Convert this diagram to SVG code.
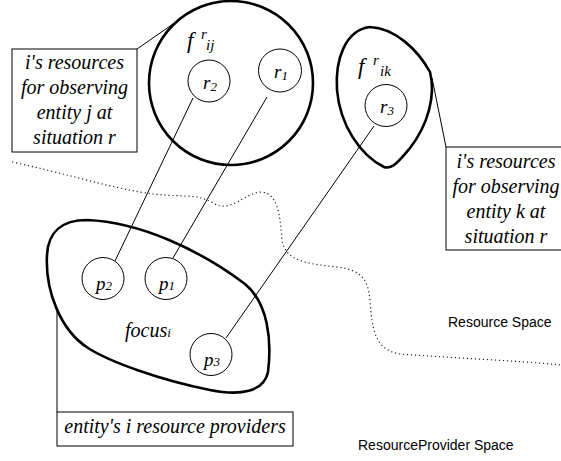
<svg xmlns="http://www.w3.org/2000/svg" width="561" height="461" viewBox="0 0 561 461">
<style>
.blob{fill:none;stroke:#000;stroke-width:2.6}
.c{fill:#fff;stroke:#000;stroke-width:1}
.ln{fill:none;stroke:#000;stroke-width:1}
.box{fill:#fff;stroke:#000;stroke-width:1}
.t{font-family:'Liberation Serif','DejaVu Serif','Times New Roman',serif;font-style:italic;font-size:20px;fill:#000}
.lbl{font-family:'Liberation Serif','DejaVu Serif','Times New Roman',serif;font-style:italic;font-size:19px;fill:#000}
.f{font-family:'Liberation Serif','DejaVu Serif','Times New Roman',serif;font-style:italic;font-size:23px;fill:#000}
.sub{font-size:13px}
.fs{font-size:15px}
.s{font-family:'Liberation Sans',Arial,sans-serif;font-size:14px;fill:#000}
.dot{fill:none;stroke:#222;stroke-width:1.2;stroke-dasharray:1.2 2.8}
</style>
<path class="dot" d="M 12 162 C 60 172, 100 185, 140 192 S 195 192, 213 203 S 245 192, 262 192 C 278 194, 280 215, 282 240 C 285 262, 310 264, 337 267 C 362 270, 368 280, 370 300 C 372 330, 375 350, 400 354 C 450 358, 510 360, 561 365"/>
<g id="connectors">
<line class="ln" x1="193" y1="98" x2="115" y2="261"/>
<line class="ln" x1="267" y1="97" x2="173" y2="258"/>
<line class="ln" x1="374" y1="126" x2="226" y2="338"/>
<line class="ln" x1="137" y1="49" x2="173" y2="24"/>
<line class="ln" x1="446" y1="147" x2="432" y2="78"/>
<line class="ln" x1="57" y1="310" x2="57" y2="412"/>
</g>
<g id="fij">
<circle class="blob" cx="231" cy="83" r="82"/>
<text class="f" x="187" y="48">f<tspan class="fs" x="201" y="39">r</tspan><tspan class="fs" x="206" y="50">ij</tspan></text>
</g>
<g id="r2"><circle class="c" cx="209" cy="81" r="21"/><text class="lbl" x="203" y="89">r<tspan class="sub" dy="2">2</tspan></text></g>
<g id="r1"><circle class="c" cx="280" cy="70.5" r="21.5"/><text class="lbl" x="274" y="78">r<tspan class="sub" dy="2">1</tspan></text></g>
<g id="fik">
<path class="blob" d="M 370 27 C 395 28, 418 50, 430 72 C 436 95, 428 125, 410 148 C 400 160, 392 170, 384 167 C 360 155, 340 125, 337 90 C 335 60, 345 30, 370 27 Z"/>
<text class="f" x="358" y="74">f<tspan class="fs" x="373" y="65">r</tspan><tspan class="fs" x="380" y="76">ik</tspan></text>
</g>
<g id="r3"><circle class="c" cx="386" cy="105.5" r="21"/><text class="lbl" x="380" y="113">r<tspan class="sub" dy="2">3</tspan></text></g>
<g id="focus">
<path class="blob" d="M 87 220 C 140 222, 200 250, 245 284 C 268 303, 272 340, 268 372 C 264 392, 240 396, 210 390 C 160 380, 110 362, 88 348 C 60 330, 45 290, 47 255 C 48 232, 62 220, 87 220 Z"/>
<text class="t" x="125" y="337">focus<tspan class="sub">i</tspan></text>
</g>
<g id="p2"><circle class="c" cx="103" cy="278.5" r="21"/><text class="lbl" x="96" y="290">p<tspan class="sub">2</tspan></text></g>
<g id="p1"><circle class="c" cx="166" cy="278.5" r="21"/><text class="lbl" x="159" y="290">p<tspan class="sub">1</tspan></text></g>
<g id="p3"><circle class="c" cx="211" cy="354.5" r="21"/><text class="lbl" x="204" y="366">p<tspan class="sub">3</tspan></text></g>
<g id="boxj">
<rect class="box" x="12" y="49" width="125" height="103"/>
<text class="t" text-anchor="middle"><tspan x="74.5" y="69">i's resources</tspan><tspan x="74.5" y="94">for observing</tspan><tspan x="74.5" y="119">entity j at</tspan><tspan x="74.5" y="144">situation r</tspan></text>
</g>
<g id="boxk">
<rect class="box" x="446" y="147" width="130" height="103"/>
<text class="t" text-anchor="middle"><tspan x="506" y="168">i's resources</tspan><tspan x="506" y="193">for observing</tspan><tspan x="506" y="218">entity k at</tspan><tspan x="506" y="243">situation r</tspan></text>
</g>
<g id="boxp">
<rect class="box" x="57" y="412" width="236" height="34"/>
<text class="t" x="175" y="433" text-anchor="middle">entity's i resource providers</text>
</g>
<text class="s" x="448" y="327">Resource Space</text>
<text class="s" x="358" y="450">ResourceProvider Space</text>
</svg>
